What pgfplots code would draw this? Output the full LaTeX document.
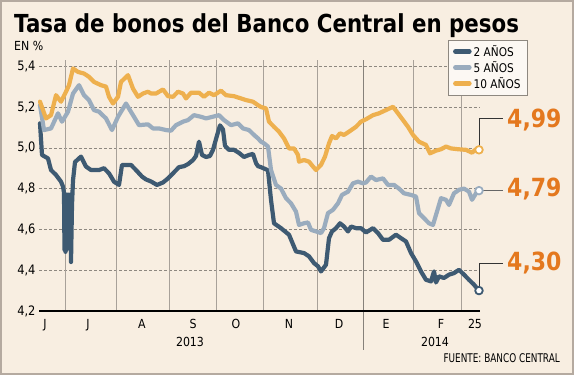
\documentclass[border=0pt]{standalone}
\usepackage{fontspec}
\usepackage{pgfplots}
\pgfplotsset{compat=1.18}
\setmainfont{DejaVu Sans}[FakeStretch=0.88]
\newfontfamily\titlefont{DejaVu Sans}[FakeStretch=0.86]
\newfontfamily\fuentefont{DejaVu Sans}[FakeStretch=0.74]
\definecolor{bg}{HTML}{F8EEE1}
\definecolor{frame}{HTML}{B5AAA0}
\definecolor{c2}{HTML}{3E5A72}
\definecolor{c5}{HTML}{9AACBE}
\definecolor{c10}{HTML}{EEB04E}
\definecolor{lab}{HTML}{E4781E}
\definecolor{vgrid}{HTML}{A8A199}
\definecolor{hgrid}{HTML}{8E8880}
\begin{document}
\begin{tikzpicture}[x=1pt,y=1pt]
\useasboundingbox (0,0) rectangle (574,-375);
\fill[bg] (0,0) rectangle (574,-375);
\draw[frame, line width=2pt] (1,-1) rectangle (573,-374);
\node[anchor=base west, inner sep=0pt] at (14,-32) {\titlefont\bfseries\fontsize{24.8}{28}\selectfont Tasa de bonos del Banco Central en pesos};
\node[anchor=base west, inner sep=0pt] at (14,-50) {\fontsize{12.5}{14}\selectfont EN \%};
\begin{axis}[
  at={(39pt,-311pt)}, anchor=south west,
  scale only axis, width=441pt, height=251pt,
  xmin=39, xmax=480, ymin=4.2, ymax=5.4304,
  clip=false,
  axis line style={draw=none},
  major tick length=0pt,
  ytick={4.2,4.4,4.6,4.8,5.0,5.2,5.4},
  ymajorgrids,
  major grid style={hgrid, line width=0.6pt, dash pattern=on 3pt off 2pt},
  yticklabel style={font=\fontsize{13}{15}\selectfont, /pgf/number format/.cd, use comma, fixed, fixed zerofill, precision=1, assume math mode=true},
  xtick={45,88,142,193,236,289,339,386,441,475},
  xticklabels={J,J,A,S,O,N,D,E,F,25},
  xticklabel style={font=\fontsize{12.5}{15}\selectfont, yshift=-5pt},
  legend style={at={(rel axis cs:0.927,1.08)}, anchor=north west, draw=hgrid, fill=white!60!bg, font=\fontsize{12}{14}\selectfont, inner xsep=5pt, inner ysep=3pt, row sep=-0.5pt, line width=0.6pt},
  legend cell align=left,
  legend image code/.code={\draw[#1, line width=4.5pt, line cap=round] (2pt,0pt) -- (16pt,0pt);},
  every axis plot/.append style={line width=4.2pt, line join=round, line cap=round},
]
% month separators
\foreach \m in {65.5,116.5,169,216,263,317,413,461} {
  \edef\tmp{\noexpand\draw[vgrid, line width=1pt] (axis cs:\m,4.2) -- (axis cs:\m,5.4304);}
  \tmp
}
\draw[vgrid!80!black, line width=1pt] (axis cs:363,5.4304) -- (axis cs:363,4.01);
\addplot[c2] coordinates {
(40,5.12)(42,4.965)(48,4.948)(51,4.891)(56,4.867)(61,4.834)(63,4.81)(64,4.78)(64.5,4.50)(65,4.77)(65.5,4.49)(66,4.77)(66.5,4.50)(67,4.77)(67.5,4.52)(68,4.77)(68.5,4.52)(69,4.77)(69.5,4.58)(70.2,4.77)(71,4.44)(72,4.72)(73,4.84)(75,4.93)(81,4.957)(86,4.908)(91,4.891)(99,4.891)(104,4.90)(109,4.875)(114,4.834)(119,4.818)(122,4.916)(126,4.916)(131,4.916)(136,4.891)(142,4.859)(146,4.845)(151,4.835)(157,4.818)(163,4.83)(168,4.85)(174,4.88)(179,4.905)(184,4.91)(188,4.92)(193,4.94)(196,4.96)(199,5.03)(202,4.965)(206,4.955)(210,4.96)(213,4.99)(217,5.06)(220,5.11)(223,5.09)(225,5.01)(229,4.99)(234,4.99)(239,4.975)(244,4.955)(249,4.965)(253,4.97)(256,4.925)(258,4.91)(261,4.905)(268,4.89)(271,4.745)(274,4.63)(281,4.606)(289,4.574)(296,4.492)(304,4.484)(309,4.468)(314,4.435)(318,4.419)(321,4.394)(326,4.427)(329,4.557)(332,4.59)(336,4.606)(340,4.63)(344,4.614)(348,4.59)(351,4.614)(356,4.606)(361,4.606)(366,4.585)(373,4.606)(378,4.582)(383,4.549)(389,4.549)(396,4.574)(401,4.557)(406,4.541)(411,4.484)(416,4.443)(421,4.394)(426,4.353)(431,4.345)(434,4.394)(436,4.34)(439,4.37)(444,4.362)(449,4.378)(454,4.386)(459,4.402)(464,4.378)(469,4.353)(474,4.329)(479,4.30)
};
\addlegendentry{2 AÑOS}
\addplot[c5] coordinates {
(40,5.209)(44,5.087)(51,5.095)(58,5.169)(62,5.128)(68,5.177)(73,5.266)(79,5.307)(84,5.258)(89,5.234)(94,5.185)(99,5.177)(106,5.144)(112,5.087)(118,5.152)(126,5.217)(133,5.16)(139,5.111)(148,5.115)(153,5.095)(159,5.095)(166,5.087)(171,5.084)(176,5.111)(183,5.128)(188,5.136)(194,5.16)(201,5.152)(206,5.144)(211,5.15)(219,5.16)(224,5.136)(231,5.111)(238,5.12)(243,5.095)(249,5.087)(254,5.063)(258,5.046)(261,5.03)(264,5.022)(268,5.006)(271,4.891)(276,4.818)(281,4.80)(286,4.753)(291,4.728)(296,4.687)(299,4.622)(304,4.63)(308,4.634)(311,4.598)(316,4.59)(321,4.582)(324,4.606)(328,4.68)(333,4.696)(338,4.728)(342,4.769)(348,4.785)(353,4.826)(358,4.834)(363,4.826)(366,4.83)(371,4.859)(376,4.842)(383,4.85)(388,4.818)(394,4.818)(399,4.80)(404,4.777)(411,4.769)(416,4.761)(419,4.68)(424,4.655)(429,4.63)(433,4.622)(436,4.671)(441,4.753)(446,4.745)(449,4.72)(454,4.777)(459,4.794)(464,4.80)(469,4.785)(472,4.745)(476,4.777)(479,4.79)
};
\addlegendentry{5 AÑOS}
\addplot[c10] coordinates {
(40,5.226)(46,5.144)(51,5.16)(56,5.258)(61,5.226)(66,5.275)(69,5.307)(73,5.389)(78,5.372)(84,5.364)(89,5.348)(94,5.323)(101,5.307)(106,5.30)(109,5.25)(113,5.217)(118,5.25)(121,5.323)(128,5.356)(133,5.29)(138,5.25)(143,5.266)(148,5.275)(151,5.266)(156,5.266)(163,5.286)(168,5.253)(173,5.25)(178,5.275)(183,5.266)(186,5.242)(191,5.27)(199,5.27)(204,5.25)(209,5.27)(214,5.258)(221,5.28)(226,5.258)(234,5.253)(241,5.242)(246,5.234)(253,5.226)(258,5.209)(261,5.20)(266,5.193)(269,5.128)(274,5.103)(279,5.079)(284,5.046)(289,4.997)(294,4.997)(298,4.965)(299,4.932)(304,4.94)(309,4.932)(313,4.908)(316,4.891)(321,4.916)(325,4.957)(329,5.022)(332,5.058)(336,5.046)(340,5.071)(344,5.063)(349,5.079)(356,5.103)(361,5.128)(366,5.140)(373,5.16)(379,5.169)(386,5.185)(393,5.201)(398,5.169)(403,5.136)(408,5.103)(413,5.063)(419,5.03)(426,5.014)(430,4.973)(436,4.986)(441,4.993)(446,5.006)(451,4.997)(458,4.993)(466,4.99)(472,4.976)(476,4.993)(479,4.99)
};
\addlegendentry{10 AÑOS}
\draw[black, line width=1.2pt] (axis cs:39,4.2) -- (axis cs:480,4.2);
% leaders
\draw[black!80, line width=0.8pt] (axis cs:479,4.99) -- (axis cs:479,5.142) -- (axis cs:503,5.142);
\draw[black!60, line width=0.8pt] (axis cs:479,4.79) -- (axis cs:503,4.79);
\draw[black!80, line width=0.8pt] (axis cs:479,4.30) -- (axis cs:479,4.432) -- (axis cs:503,4.432);
\addplot[only marks, forget plot, mark=*, mark size=3.8pt, mark options={fill=white, draw=c10, line width=1.8pt}] coordinates {(479,4.99)};
\addplot[only marks, forget plot, mark=*, mark size=3.8pt, mark options={fill=white, draw=c5, line width=1.8pt}] coordinates {(479,4.79)};
\addplot[only marks, forget plot, mark=*, mark size=3.8pt, mark options={fill=white, draw=c2, line width=1.8pt}] coordinates {(479,4.30)};
\end{axis}
\node[anchor=west, inner sep=0pt, text=lab] at (507,-120) {\bfseries\fontsize{25}{28}\selectfont 4,99};
\node[anchor=west, inner sep=0pt, text=lab] at (507,-189) {\bfseries\fontsize{25}{28}\selectfont 4,79};
\node[anchor=west, inner sep=0pt, text=lab] at (507,-263) {\bfseries\fontsize{25}{28}\selectfont 4,30};
\node[anchor=base, inner sep=0pt] at (190,-346) {\fontsize{12.5}{15}\selectfont 2013};
\node[anchor=base, inner sep=0pt] at (435,-346) {\fontsize{12.5}{15}\selectfont 2014};
\node[anchor=base east, inner sep=0pt] at (560,-362) {\fuentefont\fontsize{12}{14}\selectfont FUENTE: BANCO CENTRAL};
\end{tikzpicture}
\end{document}
